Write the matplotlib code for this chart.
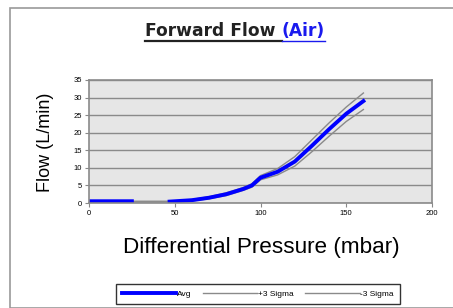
import matplotlib
matplotlib.use("Agg")
import matplotlib.pyplot as plt
from matplotlib.lines import Line2D
from matplotlib.patches import Rectangle

plt.rcParams['font.family'] = ['Liberation Sans', 'DejaVu Sans']

# data (avg has no visible points between 25 and 47 mbar)
pressure = [0, 25, 35, 47, 60, 70, 80, 90, 95, 100, 110, 120, 130, 140, 150, 160]
avg = [0.5, 0.5, None, 0.4, 0.8, 1.5, 2.5, 4.0, 5.0, 7.2, 8.9, 11.8, 16.3, 21.0, 25.4, 29.0]
plus3 = [0.5, 0.5, 0.5, 0.5, 1.0, 1.8, 2.9, 4.4, 5.5, 7.8, 9.8, 13.2, 18.0, 22.8, 27.3, 31.3]
minus3 = [0.3, 0.3, 0.3, 0.3, 0.6, 1.2, 2.1, 3.6, 4.5, 6.6, 8.0, 10.5, 14.6, 19.0, 23.2, 26.6]
xticks = [0, 50, 100, 150, 200]
yticks = [0, 5, 10, 15, 20, 25, 30, 35]

avg = [float('nan') if v is None else v for v in avg]

fig = plt.figure(figsize=(4.53, 3.08), dpi=100)
fig.patches.append(Rectangle((10 / 453, 0), 1, 1 - 8 / 308, transform=fig.transFigure,
                             fill=False, edgecolor="#9a9a9a", linewidth=1.2))

ax = fig.add_axes([89 / 453, 1 - 203 / 308, (432 - 89) / 453, (203 - 80) / 308])
ax.set_facecolor("#e6e6e6")
ax.plot(pressure, plus3, color="#8a8a8a", linewidth=1.0)
ax.plot(pressure, minus3, color="#8a8a8a", linewidth=1.0)
ax.plot(pressure, avg, color="#0000ff", linewidth=2.8)

ax.set_xlim(0, 200)
ax.set_ylim(0, 35)
ax.set_xticks(xticks)
ax.set_yticks(yticks)
ax.tick_params(labelsize=5.5, length=3, color="#888888", pad=2)
ax.yaxis.grid(True, color="#8a8a8a", linewidth=1.0)
ax.set_axisbelow(True)
for s in ax.spines.values():
    s.set_color("#8a8a8a")
    s.set_linewidth(1.2)

fig.text(46 / 453, 1 - 142 / 308, "Flow (L/min)", fontsize=13, rotation=90,
         ha="center", va="center")
fig.text(261 / 453, 1 - 247 / 308, "Differential Pressure (mbar)", fontsize=16.2,
         ha="center", va="center")

# title in two colours, underlined
base = 1 - 36 / 308
tfont = dict(fontsize=12.3, fontweight="bold", family="DejaVu Sans", va="baseline", ha="left")
t1 = fig.text(145 / 453, base, "Forward Flow ", color="#222222", **tfont)
fig.canvas.draw()
r = fig.canvas.get_renderer()
b1 = t1.get_window_extent(r)
t2 = fig.text(b1.x1 / 453, base, "(Air)", color="#1a1aee", **tfont)
b2 = t2.get_window_extent(r)
yline = 1 - 40.5 / 308
fig.add_artist(Line2D([b1.x0 / 453, b1.x1 / 453], [yline, yline], color="#222222",
                      linewidth=1.6, transform=fig.transFigure))
fig.add_artist(Line2D([b2.x0 / 453, b2.x1 / 453], [yline, yline], color="#1a1aee",
                      linewidth=1.0, transform=fig.transFigure))

h = [Line2D([], [], color="#0000ff", linewidth=2.8),
     Line2D([], [], color="#8a8a8a", linewidth=1.0),
     Line2D([], [], color="#8a8a8a", linewidth=1.0)]
leg = fig.legend(h, ["Avg", "+3 Sigma", "-3 Sigma"], ncol=3, loc="center",
                 bbox_to_anchor=(258 / 453, 1 - 294 / 308), fontsize=6,
                 frameon=True, fancybox=False, handlelength=6.5, handletextpad=0.1,
                 columnspacing=1.4, borderpad=0.75)
leg.get_frame().set_edgecolor("black")
leg.get_frame().set_linewidth(1.0)

fig.savefig("out.png", dpi=100)
